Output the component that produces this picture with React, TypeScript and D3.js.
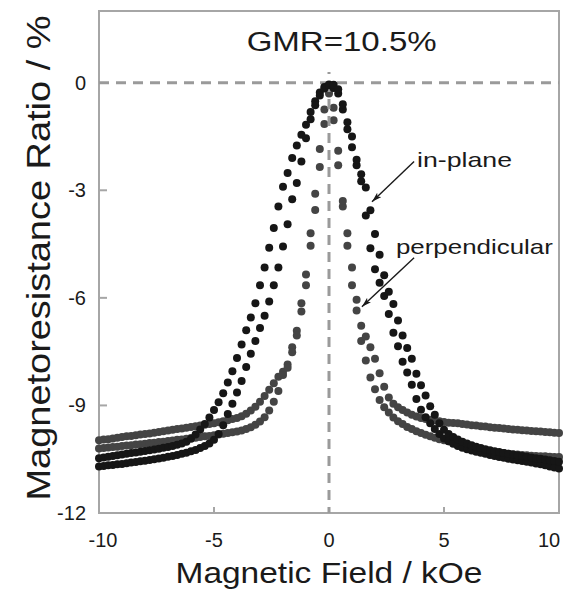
import * as d3 from "d3";
import React from "react";

// applied field grid (kOe), shared by every branch of the loops
const FIELD = [
  -10, -9.8, -9.6, -9.4, -9.2, -9, -8.8, -8.6, -8.4, -8.2,
  -8, -7.8, -7.6, -7.4, -7.2, -7, -6.8, -6.6, -6.4, -6.2,
  -6, -5.8, -5.6, -5.4, -5.2, -5, -4.8, -4.6, -4.4, -4.2,
  -4, -3.8, -3.6, -3.4, -3.2, -3, -2.8, -2.6, -2.4, -2.2,
  -2, -1.8, -1.6, -1.4, -1.2, -1, -0.8, -0.6, -0.4, -0.2,
  0,
  0.2, 0.4, 0.6, 0.8, 1, 1.2, 1.4, 1.6, 1.8, 2,
  2.2, 2.4, 2.6, 2.8, 3, 3.2, 3.4, 3.6, 3.8, 4,
  4.2, 4.4, 4.6, 4.8, 5, 5.2, 5.4, 5.6, 5.8, 6,
  6.2, 6.4, 6.6, 6.8, 7, 7.2, 7.4, 7.6, 7.8, 8,
  8.2, 8.4, 8.6, 8.8, 9, 9.2, 9.4, 9.6, 9.8, 10,
];

// in-plane, branch peaking slightly below zero field
const INPLANE_DOWN = [
  -10.47, -10.45, -10.43, -10.41, -10.39, -10.37, -10.35, -10.33, -10.31, -10.29,
  -10.27, -10.25, -10.23, -10.21, -10.18, -10.16, -10.13, -10.1, -10.06, -10.01,
  -9.93, -9.81, -9.67, -9.52, -9.34, -9.13, -8.91, -8.66, -8.36, -8.05,
  -7.68, -7.3, -6.9, -6.55, -6.15, -5.65, -5.15, -4.6, -4.05, -3.45,
  -2.9, -2.52, -2.1, -1.75, -1.45, -1.17, -0.82, -0.52, -0.27, -0.12,
  -0.05,
  -0.15, -0.3, -0.75, -1.3, -1.8, -2.3, -2.75, -3.7, -4.62, -5.2,
  -5.58, -5.95, -6.45, -6.97, -7.35, -7.78, -8.08, -8.42, -8.82, -9.12,
  -9.33, -9.5, -9.66, -9.8, -9.92, -10.0, -10.07, -10.13, -10.18, -10.22,
  -10.26, -10.29, -10.32, -10.35, -10.38, -10.41, -10.44, -10.46, -10.49, -10.51,
  -10.53, -10.55, -10.57, -10.59, -10.62, -10.64, -10.67, -10.7, -10.73, -10.76,
];

// in-plane, branch peaking slightly above zero field
const INPLANE_UP = [
  -10.7, -10.69, -10.67, -10.66, -10.64, -10.63, -10.61, -10.59, -10.58, -10.56,
  -10.54, -10.52, -10.5, -10.48, -10.46, -10.43, -10.41, -10.38, -10.35, -10.32,
  -10.28, -10.24, -10.19, -10.13, -10.06, -9.96, -9.8, -9.55, -9.24, -8.95,
  -8.64, -8.32, -7.93, -7.56, -7.2, -6.84, -6.5, -6.1, -5.65, -5.15,
  -4.57, -3.95, -3.25, -2.8, -2.2, -1.55, -1.02, -0.63, -0.36, -0.16,
  -0.07,
  -0.06, -0.18, -0.6, -1.1, -1.5, -2.15, -2.55, -2.92, -3.56, -4.22,
  -4.8, -5.37, -5.83, -6.17, -6.63, -7.05, -7.4, -7.7, -8.12, -8.44,
  -8.72, -9.02, -9.26, -9.5, -9.68, -9.8, -9.88, -9.95, -10.01, -10.06,
  -10.11, -10.15, -10.19, -10.22, -10.25, -10.28, -10.3, -10.33, -10.35, -10.37,
  -10.39, -10.41, -10.43, -10.45, -10.47, -10.49, -10.51, -10.53, -10.55, -10.57,
];

// perpendicular, branch peaking slightly below zero field
const PERP_DOWN = [
  -9.97, -9.95, -9.94, -9.92, -9.9, -9.88, -9.86, -9.85, -9.83, -9.81,
  -9.8, -9.78, -9.76, -9.74, -9.72, -9.7, -9.68, -9.66, -9.64, -9.62,
  -9.6, -9.58, -9.56, -9.54, -9.52, -9.5, -9.47, -9.44, -9.41, -9.38,
  -9.35, -9.3, -9.23, -9.14, -9.04, -8.9, -8.74, -8.56, -8.38, -8.2,
  -8.06, -7.86, -7.38, -6.92, -6.15, -5.35, -4.2, -3.1, -1.85, -0.75,
  -0.3,
  -1.05, -2.3, -3.45, -4.55, -5.65, -6.35, -7.2, -7.75, -8.22, -8.55,
  -8.85, -9.05, -9.2, -9.34, -9.44, -9.52, -9.6, -9.66, -9.72, -9.77,
  -9.82, -9.86, -9.9, -9.94, -9.97, -10.0, -10.02, -10.06, -10.1, -10.13,
  -10.17, -10.2, -10.24, -10.28, -10.3, -10.31, -10.32, -10.33, -10.35, -10.36,
  -10.37, -10.38, -10.39, -10.4, -10.41, -10.42, -10.42, -10.43, -10.44, -10.44,
];

// perpendicular, branch peaking slightly above zero field
const PERP_UP = [
  -10.2, -10.19, -10.17, -10.16, -10.15, -10.13, -10.12, -10.11, -10.09, -10.08,
  -10.07, -10.05, -10.04, -10.02, -10.01, -9.99, -9.98, -9.96, -9.95, -9.93,
  -9.91, -9.9, -9.88, -9.86, -9.85, -9.83, -9.81, -9.79, -9.77, -9.75,
  -9.73, -9.7, -9.66, -9.61, -9.54, -9.45, -9.33, -9.14, -8.9, -8.6,
  -8.15, -7.95, -7.52, -7.05, -6.38, -5.65, -4.55, -3.55, -2.35, -1.15,
  -0.2,
  -0.7, -1.9, -3.3, -4.2, -5.15, -6.05, -6.78, -7.08, -7.38, -7.7,
  -8.1, -8.48, -8.78, -8.95, -9.05, -9.13, -9.2, -9.26, -9.31, -9.35,
  -9.38, -9.4, -9.42, -9.44, -9.46, -9.48, -9.49, -9.5, -9.52, -9.53,
  -9.55, -9.56, -9.58, -9.59, -9.61, -9.62, -9.63, -9.64, -9.66, -9.67,
  -9.68, -9.69, -9.7, -9.71, -9.72, -9.73, -9.74, -9.75, -9.76, -9.77,
];

const X_TICKS = [-10, -5, 0, 5, 10];
const Y_TICKS = [0, -3, -6, -9, -12];

const FONT = "'Liberation Sans', Arial, Helvetica, sans-serif";
const INK = "#1a1a1a";
const FRAME = "#a6a6a6";
const DASH = "#9a9a9a";

export default function App() {
  const width = 564;
  const height = 590;

  const x = d3.scaleLinear().domain([-10, 10]).range([99, 559]);
  const y = d3.scaleLinear().domain([-12, 2]).range([513, 11]);

  const perp = [PERP_DOWN, PERP_UP];
  const inplane = [INPLANE_DOWN, INPLANE_UP];

  const dots = (series: number[][], color: string, key: string) =>
    series.map((vals, si) =>
      vals.map((v, i) => (
        <circle key={`${key}-${si}-${i}`} cx={x(FIELD[i])} cy={y(v)} r={4} fill={color} />
      ))
    );

  return (
    <svg
      width={width}
      height={height}
      style={{ position: "absolute", left: 0, top: 0, background: "#fff" }}
      fontFamily={FONT}
    >
      <defs>
        <marker id="head" viewBox="0 0 10 6" refX={10} refY={3} markerWidth={10} markerHeight={6} markerUnits="userSpaceOnUse" orient="auto">
          <path d="M0,0 L10,3 L0,6 L2.5,3 Z" fill={INK} />
        </marker>
      </defs>

      {/* frame */}
      <rect x={x(-10)} y={y(2)} width={x(10) - x(-10)} height={y(-12) - y(2)} fill="none" stroke={FRAME} strokeWidth={2} />

      {/* inward ticks */}
      {Y_TICKS.filter((t) => t !== 0 && t !== -12).map((t) => (
        <line key={`yt${t}`} x1={x(-10)} x2={x(-10) + 8} y1={y(t)} y2={y(t)} stroke={FRAME} strokeWidth={2} />
      ))}
      {X_TICKS.filter((t) => t === -5 || t === 5).map((t) => (
        <line key={`xt${t}`} x1={x(t)} x2={x(t)} y1={y(-12)} y2={y(-12) - 6} stroke={FRAME} strokeWidth={2} />
      ))}

      {/* perpendicular loop */}
      {dots(perp, "#444444", "p")}

      {/* zero guides */}
      <line x1={x(-10)} x2={x(10)} y1={y(0)} y2={y(0)} stroke={DASH} strokeWidth={3} strokeDasharray="10 7" />
      <line x1={x(0)} x2={x(0)} y1={y(0.3)} y2={y(-12)} stroke={DASH} strokeWidth={3} strokeDasharray="2 8 10 7 10 7 10 7 10 7 10 7 10 7 10 7 10 7 10 7 10 7 10 7 10 7 10 7 10 7 10 7 10 7 10 7 10 7 10 7 10 7 10 7 10 7 10 7 10 7 10 7 10 7 10 7 10 7" />

      {/* in-plane loop */}
      {dots(inplane, "#161616", "i")}

      {/* y tick labels */}
      {Y_TICKS.map((t) => (
        <text key={`yl${t}`} x={x(-10) - 13} y={y(t)} dy="0.35em" textAnchor="end" fontSize={20} fill={INK}>
          {t}
        </text>
      ))}
      {/* x tick labels */}
      {X_TICKS.map((t) => (
        <text
          key={`xl${t}`}
          x={x(t) + (t === -10 ? 4 : t === 10 ? -10 : 0)}
          y={y(-12) + 34}
          textAnchor="middle"
          fontSize={20}
          fill={INK}
        >
          {t}
        </text>
      ))}

      {/* axis titles */}
      <text x={x(0)} y={583} textAnchor="middle" fontSize={30} textLength={307} lengthAdjust="spacingAndGlyphs" fill={INK}>
        Magnetic Field / kOe
      </text>
      <text
        transform={`translate(50, ${(y(-12) + y(2)) / 2 - 4}) rotate(-90)`}
        textAnchor="middle"
        fontSize={34}
        textLength={485}
        lengthAdjust="spacingAndGlyphs"
        fill={INK}
      >
        Magnetoresistance Ratio / %
      </text>

      {/* title inside plot */}
      <text x={x(0.55)} y={51} textAnchor="middle" fontSize={27} textLength={190} lengthAdjust="spacingAndGlyphs" fill={INK}>
        GMR=10.5%
      </text>

      {/* annotations */}
      <text x={x(3.83)} y={y(-2.34)} fontSize={21} textLength={95} lengthAdjust="spacingAndGlyphs" fill={INK}>
        in-plane
      </text>
      <line x1={x(3.7)} y1={y(-2.2)} x2={x(1.87)} y2={y(-3.32)} stroke={INK} strokeWidth={1.4} markerEnd="url(#head)" />
      <text x={x(2.91)} y={y(-4.77)} fontSize={21} textLength={157} lengthAdjust="spacingAndGlyphs" fill={INK}>
        perpendicular
      </text>
      <line x1={x(3.7)} y1={y(-4.88)} x2={x(1.43)} y2={y(-6.25)} stroke={INK} strokeWidth={1.4} markerEnd="url(#head)" />
    </svg>
  );
}
